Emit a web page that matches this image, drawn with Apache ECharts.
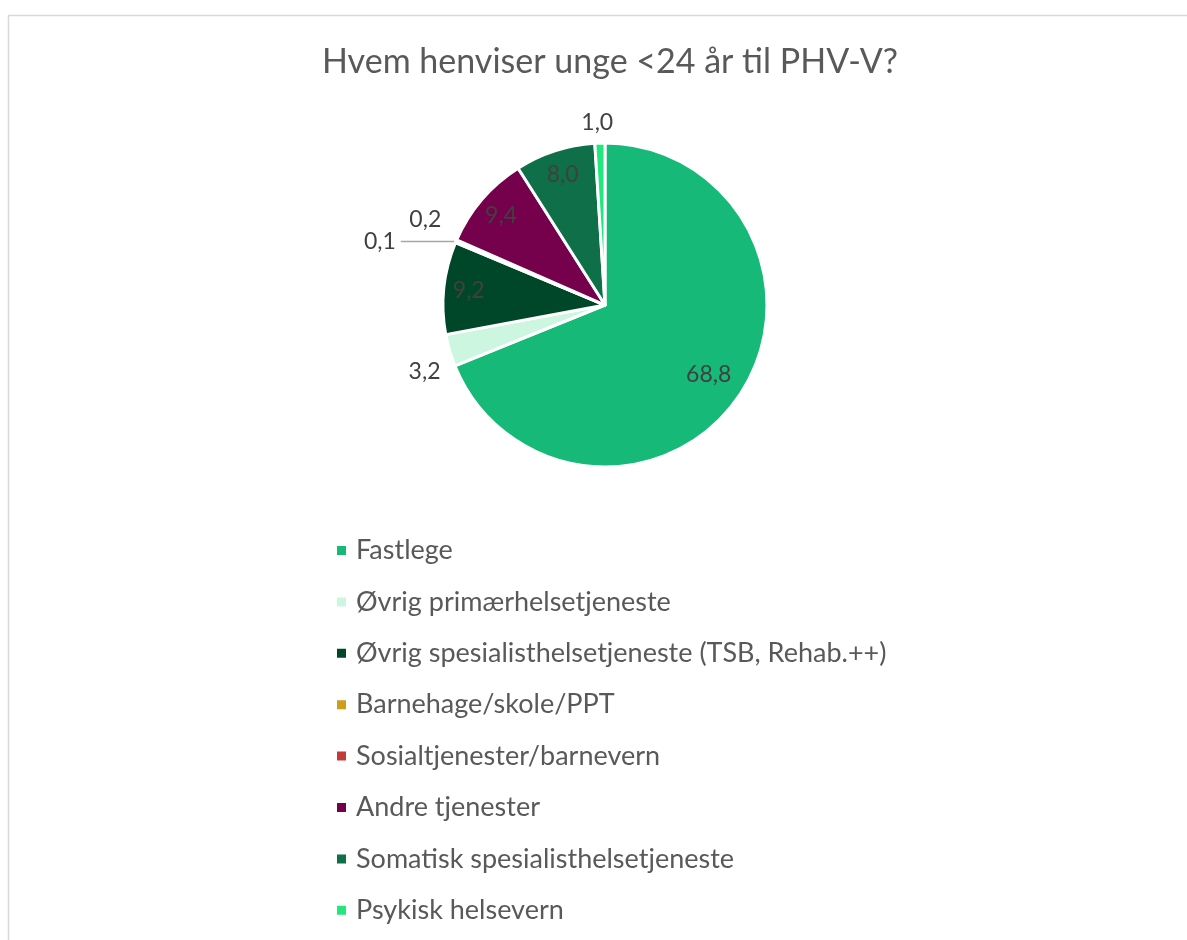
<!DOCTYPE html>
<html>
<head>
<meta charset="utf-8">
<script src="https://cdn.jsdelivr.net/npm/echarts@6/dist/echarts.min.js"></script>
<style>
  html, body { margin: 0; padding: 0; background: #fff; }
  #chart { width: 1187px; height: 940px; }
</style>
</head>
<body>
<div id="chart"></div>
<script>
var categories = [
    "Fastlege",
    "Øvrig primærhelsetjeneste",
    "Øvrig spesialisthelsetjeneste (TSB, Rehab.++)",
    "Barnehage/skole/PPT",
    "Sosialtjenester/barnevern",
    "Andre tjenester",
    "Somatisk spesialisthelsetjeneste",
    "Psykisk helsevern"
];
var values = [68.8, 3.2, 9.2, 0.1, 0.2, 9.4, 8.0, 1.0];
var colors = ["#17b978", "#ccf6e0", "#00472a", "#cc9e1b", "#c23b3b", "#75004b", "#0e6f48", "#22e67e"];
// which labels sit outside the pie
var outside = [false, true, false, true, true, false, false, true];

var font = "Lato";
var labelColor = "#404040";

function fmt(v) {
    return v.toFixed(1).replace(".", ",");
}

var center = [605, 305];
var R = 162;

// outside label lines: [length, length2, visible]
var lines = {
    1: [0, 0, false],
    3: [2, 53, true],
    4: [0, 0, false],
    7: [21, 0, false]
};
// small nudges for the outside labels
var nudge = {
    1: { dx: -4, dy: 21 },
    4: { dx: -10, dy: -21 },
    7: { dx: 3, align: "center" }
};

var mainData = categories.map(function (name, i) {
    var l = lines[i] || [0, 0, false];
    return {
        name: name,
        value: values[i],
        itemStyle: { color: colors[i] },
        label: { show: outside[i] },
        labelLine: { show: l[2], length: l[0], length2: l[1] }
    };
});

// transparent copies used only to place the inside labels
function overlay(r0, which) {
    return {
        type: "pie",
        center: center,
        radius: [r0, R],
        silent: true,
        legendHoverLink: false,
        startAngle: 90,
        data: categories.map(function (name, i) {
            return {
                name: name,
                value: values[i],
                itemStyle: { color: "transparent", borderWidth: 0 },
                label: { show: which.indexOf(i) >= 0 }
            };
        }),
        label: {
            position: "inside",
            fontFamily: font,
            fontSize: 23,
            color: labelColor,
            formatter: function (p) { return fmt(p.value); }
        },
        labelLine: { show: false },
        tooltip: { show: false }
    };
}

var chart = echarts.init(document.getElementById("chart"));
chart.setOption({
    animation: false,
    title: {
        text: "Hvem henviser unge <24 år til PHV-V?",
        left: 605,
        top: 40,
        textAlign: "center",
        textStyle: { fontFamily: font, fontSize: 34, fontWeight: "normal", color: "#595959" }
    },
    legend: {
        orient: "vertical",
        left: 335,
        top: 537,
        padding: 0,
        icon: "rect",
        itemWidth: 11,
        itemHeight: 11,
        itemGap: 24.4,
        data: categories,
        textStyle: { fontFamily: font, fontSize: 27, color: "#595959", lineHeight: 27, padding: [0, 0, 0, 4] }
    },
    graphic: [{
        type: "rect",
        shape: { x: 8.5, y: 15.5, width: 1300, height: 1000 },
        style: { fill: "none", stroke: "#d9d9d9", lineWidth: 1.5 },
        silent: true
    }],
    series: [
        {
            type: "pie",
            center: center,
            radius: [0, R],
            startAngle: 90,
            avoidLabelOverlap: false,
            data: mainData,
            itemStyle: { borderColor: "#fff", borderWidth: 3 },
            label: {
                position: "outside",
                fontFamily: font,
                fontSize: 23,
                color: labelColor,
                formatter: function (p) { return fmt(p.value); }
            },
            labelLine: { lineStyle: { color: "#a6a6a6", width: 1.5 } },
            labelLayout: function (p) {
                return nudge[p.dataIndex] || {};
            }
        },
        overlay(106, [2, 5, 6]),
        overlay(82, [0])
    ]
});
</script>
</body>
</html>
